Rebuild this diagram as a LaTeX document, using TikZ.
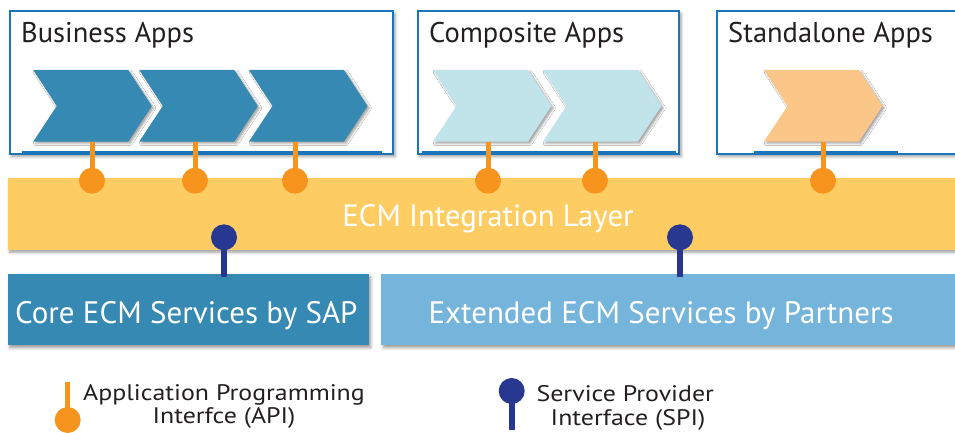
\documentclass[tikz,border=0pt]{standalone}
\usepackage{fontspec}
\setmainfont{PT Sans}
\usetikzlibrary{shadows.blur}
\definecolor{boxblue}{HTML}{1B75BB}
\definecolor{sapblue}{HTML}{3589B2}
\definecolor{lightcyan}{HTML}{C1E4EA}
\definecolor{apricot}{HTML}{FBC788}
\definecolor{layeryellow}{HTML}{FDCD63}
\definecolor{partnerblue}{HTML}{75B4DB}
\definecolor{apiorange}{HTML}{F7941D}
\definecolor{spinavy}{HTML}{283891}
\definecolor{txt}{HTML}{231F20}
\tikzset{
  softshadow/.style={blur shadow={shadow xshift=2pt, shadow yshift=-2.5pt, shadow blur radius=3pt, shadow opacity=40}},
  appbox/.style={draw=boxblue, line width=2pt, fill=white, softshadow, inner sep=0pt, anchor=north west},
  flatbox/.style={inner sep=0pt, anchor=north west, softshadow},
  title/.style={anchor=base west, inner sep=0pt, text=txt, font=\fontsize{28.5}{34}\selectfont},
  whitetext/.style={inner sep=0pt, text=white},
  legendtext/.style={anchor=base, inner sep=0pt, text=txt, font=\fontsize{22.5}{26}\selectfont},
  apicirc/.style={circle, fill=apiorange, minimum size=26pt, inner sep=0pt},
  spicirc/.style={circle, fill=spinavy, minimum size=26pt, inner sep=0pt},
  apistem/.style={draw=apiorange, line width=5pt},
  spistem/.style={draw=spinavy, line width=6pt},
  chevshadow/.style={blur shadow={shadow xshift=2pt, shadow yshift=-2pt, shadow blur radius=2pt, shadow opacity=35}}
}
\newcommand\mychevron[2]{%
  \fill[#2, chevshadow] (#1,70) -- ++(95,0) -- ++(23.5,36) -- ++(-23.5,35.5) -- ++(-95,0) -- ++(23.5,-35.5) -- cycle;}
\newcommand\widetxt[1]{\scalebox{1.15}[1]{#1}}
\begin{document}
\begin{tikzpicture}[x=1pt,y=-1pt]
\useasboundingbox (0,0) rectangle (955,433);
\clip (0,0) rectangle (955,433);
% app boxes
\node[appbox, minimum width=383.5pt, minimum height=143pt] (biz) at (8.5,10) {};
\node[appbox, minimum width=261.5pt, minimum height=143pt] (comp) at (416.5,10) {};
\node[appbox, minimum width=260pt, minimum height=143pt] (stand) at (716,10) {};
\draw[boxblue, line width=3.5pt] (22,153) -- (382,153);
\draw[boxblue, line width=3.5pt] (422,153) -- (676,153);
\draw[boxblue, line width=3.5pt] (754,153) -- (898,153);
\node[title] (biztitle) at (21,43) {Business Apps};
\node[title] (comptitle) at (429,43) {Composite Apps};
\node[title] (standtitle) at (728,43) {Standalone Apps};
% chevrons
\mychevron{33.3}{sapblue}
\mychevron{139.3}{sapblue}
\mychevron{249}{sapblue}
\mychevron{433}{lightcyan}
\mychevron{543}{lightcyan}
\mychevron{764}{apricot}
% integration layer
\node[flatbox, fill=layeryellow, minimum width=960pt, minimum height=72pt] (layer) at (7.5,177.5) {};
\node[whitetext, anchor=base, font=\fontsize{30.8}{36}\selectfont] (layertext) at (488,226.7) {ECM Integration Layer};
% service boxes
\node[flatbox, fill=sapblue, minimum width=361pt, minimum height=71pt] (core) at (7.5,274) {};
\node[flatbox, fill=partnerblue, minimum width=590pt, minimum height=71pt] (ext) at (381,274) {};
\node[whitetext, anchor=base west, font=\fontsize{31}{36}\selectfont] (coretext) at (15,323.3) {Core ECM Services by SAP};
\node[whitetext, anchor=base west, font=\fontsize{31}{36}\selectfont] (exttext) at (428.3,323.3) {Extended ECM Services by Partners};
% API pins
\foreach \i/\x in {1/92,2/195,3/295,4/488,5/595,6/823}{
  \coordinate (ctop\i) at (\x,141.5);
  \node[apicirc] (api\i) at (\x,180.7) {};
  \draw[apistem] (ctop\i) -- (api\i.center);
}
% SPI pins
\foreach \i/\x in {1/224,2/680}{
  \coordinate (sbot\i) at (\x,277);
  \node[spicirc] (spi\i) at (\x,237.3) {};
  \draw[spistem] (spi\i.center) -- (sbot\i);
}
% legend
\coordinate (legapitop) at (67.7,381.7);
\node[apicirc] (legapi) at (67.7,420) {};
\draw[apistem] (legapitop) -- (legapi.center);
\node[legendtext] (legapi1) at (224,400) {\widetxt{Application Programming}};
\node[legendtext] (legapi2) at (224,423.3) {\widetxt{Interfce (API)}};
\coordinate (legspibot) at (511.7,430);
\node[spicirc] (legspi) at (511.7,391) {};
\draw[spistem] (legspi.center) -- (legspibot);
\node[legendtext] (legspi1) at (625.3,401.7) {\widetxt{Service Provider}};
\node[legendtext] (legspi2) at (628,425) {\widetxt{Interface (SPI)}};
\end{tikzpicture}
\end{document}
